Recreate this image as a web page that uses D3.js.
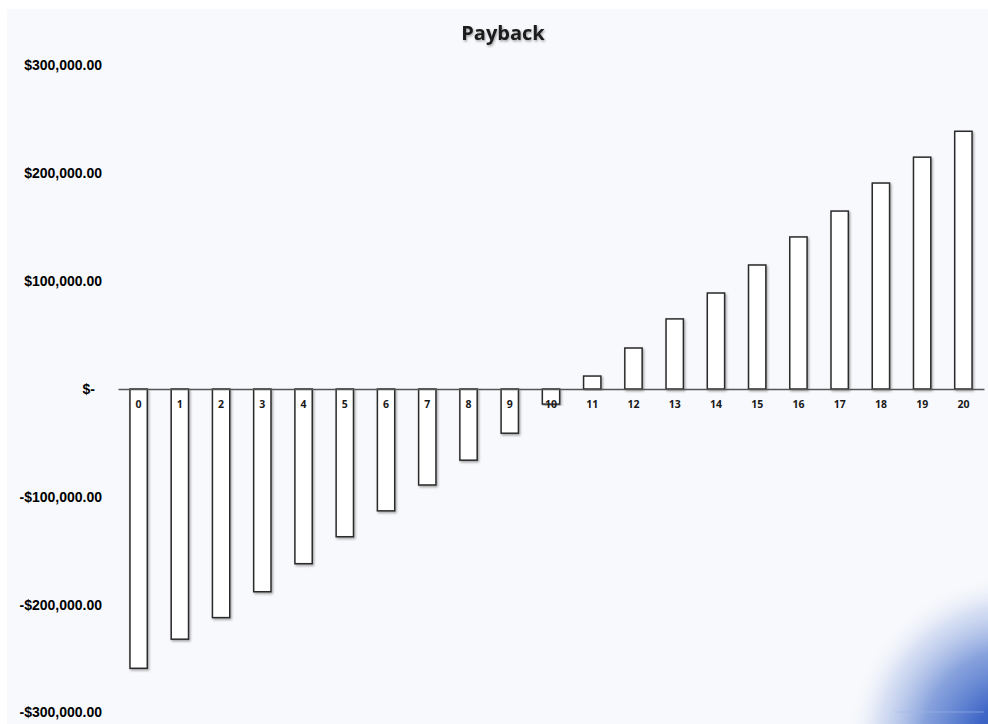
<!DOCTYPE html>
<html>
<head>
<meta charset="utf-8">
<script src="https://cdn.jsdelivr.net/npm/d3@7"></script>
<style>
  html, body { margin: 0; padding: 0; background: #ffffff; }
  svg { display: block; }
</style>
</head>
<body>
<svg id="chart" width="988" height="724"></svg>
<script>
// Cumulative cash position by year
const years = ["0","1","2","3","4","5","6","7","8","9","10","11","12","13","14","15","16","17","18","19","20"];
const cumulative = [-259000, -232000, -212000, -188000, -162000, -137000, -113000, -89000, -66000, -41000, -14000,
                    12000, 38000, 65000, 89000, 115000, 141000, 165000, 191000, 215000, 239000];
const yTicks = [-300000, -200000, -100000, 0, 100000, 200000, 300000];
const yTickLabels = ["-$300,000.00", "-$200,000.00", "-$100,000.00", "$-", "$100,000.00", "$200,000.00", "$300,000.00"];
const title = "Payback";

const W = 988, H = 724;
const svg = d3.select("#chart");
const defs = svg.append("defs");

// soft drop shadow for the bars
const shadow = defs.append("filter").attr("id", "barShadow")
  .attr("x", "-30%").attr("y", "-10%").attr("width", "160%").attr("height", "120%");
shadow.append("feDropShadow").attr("dx", 1.2).attr("dy", 1.5)
  .attr("stdDeviation", 0.9).attr("flood-color", "#000").attr("flood-opacity", 0.35);

const tShadow = defs.append("filter").attr("id", "titleShadow")
  .attr("x", "-10%").attr("y", "-30%").attr("width", "120%").attr("height", "160%");
tShadow.append("feDropShadow").attr("dx", 1).attr("dy", 1.5)
  .attr("stdDeviation", 1.2).attr("flood-color", "#000").attr("flood-opacity", 0.35);

// blue corner glow
const glow = defs.append("radialGradient").attr("id", "cornerGlow")
  .attr("gradientUnits", "userSpaceOnUse")
  .attr("cx", 1018).attr("cy", 745).attr("r", 175);
glow.append("stop").attr("offset", "0%").attr("stop-color", "#2f57bb").attr("stop-opacity", 1);
glow.append("stop").attr("offset", "25%").attr("stop-color", "#3760c4").attr("stop-opacity", 0.97);
glow.append("stop").attr("offset", "55%").attr("stop-color", "#5a7fd0").attr("stop-opacity", 0.72);
glow.append("stop").attr("offset", "80%").attr("stop-color", "#9fb4e4").attr("stop-opacity", 0.38);
glow.append("stop").attr("offset", "100%").attr("stop-color", "#ffffff").attr("stop-opacity", 0);

// panel background
svg.append("rect").attr("x", 7).attr("y", 9).attr("width", W - 7).attr("height", H - 9)
  .attr("fill", "#f8f9fc");
svg.append("rect").attr("x", 7).attr("y", 9).attr("width", W - 7).attr("height", H - 9)
  .attr("fill", "url(#cornerGlow)");
svg.append("line").attr("x1", 895).attr("x2", 984).attr("y1", 712).attr("y2", 712)
  .attr("stroke", "#9fb4e6").attr("stroke-width", 1).attr("opacity", 0.6);

// scales
const x = d3.scaleBand().domain(years).range([118, 984]).paddingInner(0.58).paddingOuter(0.29);
const y = d3.scaleLinear().domain([-300000, 300000]).range([712.5, 65.5]);

// title
svg.append("text")
  .attr("x", 503).attr("y", 40)
  .attr("text-anchor", "middle")
  .attr("font-family", "'Open Sans', 'DejaVu Sans', sans-serif")
  .attr("font-weight", "bold")
  .attr("font-size", 20)
  .attr("fill", "#1a1a1a")
  .attr("filter", "url(#titleShadow)")
  .text(title);

// y axis labels
const yAxis = d3.axisLeft(y)
  .tickValues(yTicks)
  .tickFormat((d, i) => yTickLabels[i])
  .tickSize(0).tickPadding(0);
const gy = svg.append("g").attr("transform", "translate(102,0)").call(yAxis);
gy.select(".domain").remove();
gy.selectAll("text")
  .attr("font-family", "'Liberation Sans', Arial, sans-serif")
  .attr("font-weight", "bold")
  .attr("font-size", 14)
  .attr("fill", "#000")
  .attr("dx", d => d === 0 ? -7 : 0);

// bars
svg.append("g").selectAll("rect")
  .data(cumulative)
  .join("rect")
  .attr("x", (d, i) => x(years[i]))
  .attr("width", x.bandwidth())
  .attr("y", d => y(Math.max(0, d)))
  .attr("height", d => Math.abs(y(d) - y(0)))
  .attr("fill", "#ffffff")
  .attr("stroke", "#2b2b2b")
  .attr("stroke-width", 1.5)
  .attr("filter", "url(#barShadow)");

// zero axis line with category labels
const xAxis = d3.axisBottom(x).tickSize(0).tickPadding(0);
const gx = svg.append("g").attr("transform", `translate(0,${y(0)})`).call(xAxis);
gx.select(".domain")
  .attr("stroke", "#555")
  .attr("stroke-width", 1.5);
gx.selectAll("text")
  .attr("dy", 0)
  .attr("y", 19)
  .attr("font-family", "'Open Sans', 'DejaVu Sans', sans-serif")
  .attr("font-weight", "bold")
  .attr("font-size", 10.5)
  .attr("fill", "#1a1a1a");
</script>
</body>
</html>
